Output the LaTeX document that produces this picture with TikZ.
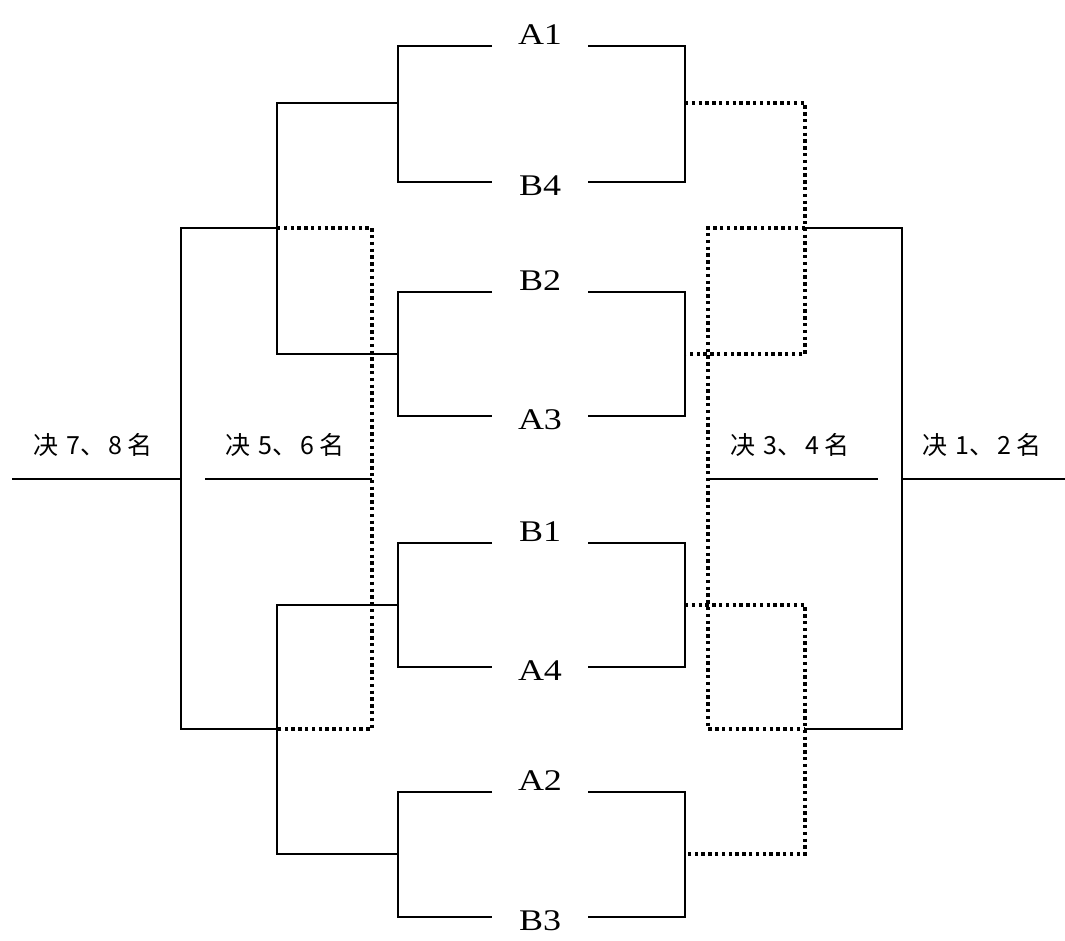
\documentclass[tikz,border=0pt]{standalone}
\usepackage{fontspec}
\setmainfont{Liberation Serif}
\newfontfamily\cjk{Noto Sans CJK SC}
\usetikzlibrary{calc}

\begin{document}
\begin{tikzpicture}[x=1pt,y=-1pt]

% Define styles
\tikzstyle{team} = [font=\fontsize{30}{30}\selectfont, xscale=1.2, inner sep=0pt, anchor=base]
\tikzstyle{rank} = [font=\cjk\fontsize{25}{25}\selectfont, inner sep=0pt]
\tikzstyle{line} = [draw, line width=1.8pt]
\tikzstyle{dots} = [draw, line width=3.4pt, dash pattern=on 3.4pt off 3.4pt]

\useasboundingbox (0,0) rectangle (1065,940);

% teams
\node[team] (A1) at (540,44) {A1};
\node[team] (B4) at (540,195) {B4};
\node[team] (B2) at (540,290) {B2};
\node[team] (A3) at (540,429) {A3};
\node[team] (B1) at (540,541) {B1};
\node[team] (A4) at (540,680) {A4};
\node[team] (A2) at (540,790) {A2};
\node[team] (B3) at (540,930) {B3};

\foreach \t/\y in {A1/46,B4/182,B2/292,A3/416,B1/543,A4/667,A2/792,B3/917} {
  \coordinate (\t w) at (492,\y);
  \coordinate (\t e) at (588,\y);
  \coordinate (\t l) at (398,\y);
  \coordinate (\t r) at (685,\y);
}

% first round
\draw[line] (A1w) -- (A1l) -- (B4l) -- (B4w);
\draw[line] (A1e) -- (A1r) -- (B4r) -- (B4e);
\draw[line] (B2w) -- (B2l) -- (A3l) -- (A3w);
\draw[line] (B2e) -- (B2r) -- (A3r) -- (A3e);
\draw[line] (B1w) -- (B1l) -- (A4l) -- (A4w);
\draw[line] (B1e) -- (B1r) -- (A4r) -- (A4e);
\draw[line] (A2w) -- (A2l) -- (B3l) -- (B3w);
\draw[line] (A2e) -- (A2r) -- (B3r) -- (B3e);

\coordinate (m1l) at (398,103); \coordinate (m1r) at (685,103);
\coordinate (m2l) at (398,354); \coordinate (m2r) at (685,354);
\coordinate (m3l) at (398,605); \coordinate (m3r) at (685,605);
\coordinate (m4l) at (398,854); \coordinate (m4r) at (685,854);

% left side
\coordinate (s1) at (277,103); \coordinate (s2) at (277,354);
\coordinate (s3) at (277,605); \coordinate (s4) at (277,854);
\coordinate (su) at (277,228); \coordinate (sd) at (277,729);
\draw[line] (m1l) -- (s1) -- (s2) -- (m2l);
\draw[line] (m3l) -- (s3) -- (s4) -- (m4l);

\coordinate (h7u) at (181,228); \coordinate (h7d) at (181,729);
\coordinate (h7) at (181,479); \coordinate (e7) at (12,479);
\draw[line] (su) -- (h7u) -- (h7d) -- (sd);
\draw[line] (e7) -- (h7);

\coordinate (h5u) at (372,228); \coordinate (h5d) at (372,729);
\coordinate (h5) at (372,479); \coordinate (e5) at (205,479);
\draw[dots] (su) -- (h5u) -- (h5d) -- (sd);
\draw[line] (e5) -- (h5);

% right side
\coordinate (t1) at (805,103); \coordinate (t2) at (805,354);
\coordinate (t3) at (805,605); \coordinate (t4) at (805,854);
\coordinate (tu) at (805,228); \coordinate (td) at (805,729);
\draw[dots] (m1r) -- (t1) -- (t2) -- (m2r);
\draw[dots] (m3r) -- (t3) -- (t4) -- (m4r);

\coordinate (h1u) at (902,228); \coordinate (h1d) at (902,729);
\coordinate (h1) at (902,479); \coordinate (e1) at (1065,479);
\draw[line] (tu) -- (h1u) -- (h1d) -- (td);
\draw[line] (h1) -- (e1);

\coordinate (h3u) at (708,228); \coordinate (h3d) at (708,729);
\coordinate (h3) at (708,479); \coordinate (e3) at (878,479);
\draw[dots] (tu) -- (h3u) -- (h3d) -- (td);
\draw[line] (h3) -- (e3);

% places
\node[rank] (r78) at (93,445) {决\hspace{8pt}7、\hspace{3pt}8\hspace{6pt}名};
\node[rank] (r56) at (285,445) {决\hspace{8pt}5、\hspace{3pt}6\hspace{6pt}名};
\node[rank] (r34) at (790,445) {决\hspace{8pt}3、\hspace{3pt}4\hspace{6pt}名};
\node[rank] (r12) at (982,445) {决\hspace{8pt}1、\hspace{3pt}2\hspace{6pt}名};

\end{tikzpicture}
\end{document}
